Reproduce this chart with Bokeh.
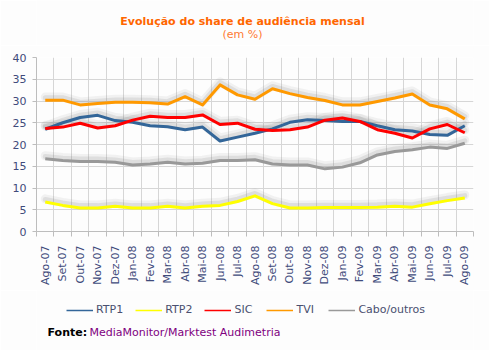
from math import pi
from bokeh.plotting import figure
from bokeh.layouts import column
from bokeh.models import FixedTicker, Label, Legend, LegendItem, ColumnDataSource
from bokeh.transform import dodge
from bokeh.embed import file_html
from bokeh.resources import INLINE

months = ["Ago-07", "Set-07", "Out-07", "Nov-07", "Dez-07", "Jan-08", "Fev-08", "Mar-08",
          "Abr-08", "Mai-08", "Jun-08", "Jul-08", "Ago-08", "Set-08", "Out-08", "Nov-08",
          "Dez-08", "Jan-09", "Fev-09", "Mar-09", "Abr-09", "Mai-09", "Jun-09", "Jul-09", "Ago-09"]
rtp1 = [23.5, 25.0, 26.2, 26.7, 25.5, 25.1, 24.3, 24.1, 23.4, 24.0, 20.8, 21.7, 22.6,
        23.6, 25.1, 25.7, 25.5, 25.3, 25.3, 24.3, 23.4, 23.1, 22.3, 22.1, 24.3]
rtp2 = [6.8, 6.0, 5.4, 5.4, 5.8, 5.4, 5.4, 5.8, 5.4, 5.8, 6.0, 6.9, 8.2,
        6.4, 5.4, 5.4, 5.5, 5.5, 5.5, 5.6, 5.8, 5.6, 6.4, 7.1, 7.7]
sic = [23.7, 24.0, 24.9, 23.8, 24.3, 25.6, 26.5, 26.2, 26.2, 26.8, 24.6, 24.9, 23.5,
       23.2, 23.4, 24.0, 25.6, 26.1, 25.3, 23.4, 22.6, 21.5, 23.6, 24.6, 22.7]
tvi = [30.2, 30.2, 29.1, 29.4, 29.7, 29.7, 29.6, 29.3, 31.0, 29.1, 33.7, 31.4, 30.4,
       32.8, 31.7, 30.8, 30.1, 29.1, 29.1, 29.9, 30.7, 31.6, 29.1, 28.2, 25.9]
cabo = [16.7, 16.3, 16.1, 16.1, 15.9, 15.3, 15.5, 15.9, 15.5, 15.7, 16.3, 16.3, 16.5,
        15.5, 15.3, 15.3, 14.4, 14.8, 15.8, 17.6, 18.4, 18.8, 19.4, 19.1, 20.3]
series_names = ["RTP1", "RTP2", "SIC", "TVI", "Cabo/outros"]
series_colors = ["#336699", "#FFFF00", "#FF0000", "#FF9900", "#999999"]
yticks = [0, 5, 10, 15, 20, 25, 30, 35, 40]

idx = list(range(len(months)))
bounds = [i - 0.5 for i in range(len(months) + 1)]
src = ColumnDataSource(dict(x=idx, RTP1=rtp1, RTP2=rtp2, SIC=sic, TVI=tvi, Cabo=cabo))
keys = ["RTP1", "RTP2", "SIC", "TVI", "Cabo"]

bg = "#FDFDFD"
W = 489
FONT = "DejaVu Sans"
LEFT = 36  # the column aligns every frame with the chart frame


def blank(h):
    f = figure(width=W, height=h, x_range=(0, 1), y_range=(0, 1), output_backend="svg",
               toolbar_location=None, x_axis_location=None, y_axis_location=None,
               min_border_left=LEFT, min_border_right=16, min_border_top=0, min_border_bottom=0,
               background_fill_color=bg, border_fill_color=bg)
    f.outline_line_color = None
    f.grid.grid_line_color = None
    return f


# ---- title strip ----
top = blank(45)
top.add_layout(Label(x=242 - LEFT, y=24, x_units="screen", y_units="screen",
                     text="Evolução do share de audiência mensal", text_align="center",
                     text_baseline="middle", text_font=FONT, text_font_style="bold",
                     text_font_size="11px", text_color="#FF6600"))
top.add_layout(Label(x=242 - LEFT, y=11, x_units="screen", y_units="screen",
                     text="(em %)", text_align="center", text_baseline="middle",
                     text_font=FONT, text_font_size="11px", text_color="#FF7A33"))

# ---- main chart ----
p = figure(width=W, height=245, x_range=(-0.5, len(months) - 0.5), y_range=(yticks[0], yticks[-1]),
           output_backend="svg", toolbar_location=None,
           min_border_left=LEFT, min_border_right=16, min_border_top=12, min_border_bottom=59,
           background_fill_color=bg, border_fill_color=bg)
p.outline_line_color = None

lab_color = "#3F4B7B"
p.xaxis.ticker = FixedTicker(ticks=idx, minor_ticks=bounds)
p.xaxis.major_label_overrides = {i: m for i, m in enumerate(months)}
p.xaxis.major_label_orientation = pi / 2
p.xaxis.major_tick_out = 0
p.xaxis.major_tick_in = 0
p.xaxis.minor_tick_out = 5
p.xaxis.minor_tick_in = 0
p.xaxis.major_label_standoff = 9
p.xgrid.ticker = FixedTicker(ticks=bounds)

p.yaxis.ticker = FixedTicker(ticks=yticks)
p.yaxis.major_tick_out = 4
p.yaxis.major_tick_in = 0
p.yaxis.minor_tick_out = 0
p.yaxis.minor_tick_in = 0
p.yaxis.major_label_standoff = 6

for ax in (p.xaxis[0], p.yaxis[0]):
    ax.axis_line_color = "#BDBDBD"
    ax.major_tick_line_color = "#BDBDBD"
    ax.minor_tick_line_color = "#BDBDBD"
    ax.major_label_text_font = FONT
    ax.major_label_text_font_size = "11px"
    ax.major_label_text_color = lab_color

p.xgrid.grid_line_color = "#D6D6D6"
p.ygrid.grid_line_color = "#D6D6D6"

for k in keys:
    p.line("x", dodge(k, 0.7), source=src, line_color="#888888", line_alpha=0.10, line_width=9,
           line_join="round", line_cap="round")
    p.line("x", dodge(k, 0.55), source=src, line_color="#888888", line_alpha=0.18, line_width=5,
           line_join="round", line_cap="round")

for k, col in zip(keys, series_colors):
    p.line("x", k, source=src, line_color=col, line_width=3, line_join="round")

# ---- footer: legend + source ----
foot = blank(60)
items = []
for name, col in zip(series_names, series_colors):
    # legend swatch renderer, kept outside the visible range
    swatch = foot.line(x=[-3, -2], y=[-3, -3], line_color=col, line_width=1.5)
    items.append(LegendItem(label=name, renderers=[swatch]))
legend = Legend(items=items, orientation="horizontal", location=(66 - LEFT, 34),
                glyph_width=27, glyph_height=12, label_height=12, label_standoff=3, spacing=12,
                padding=0, margin=0, border_line_color=None, background_fill_alpha=0,
                label_text_font=FONT, label_text_font_size="11px",
                label_text_color="#4A5070")
foot.add_layout(legend)
foot.add_layout(Label(x=47 - LEFT, y=18, x_units="screen", y_units="screen",
                      text="Fonte:", text_align="left", text_baseline="middle",
                      text_font=FONT, text_font_style="bold",
                      text_font_size="11px", text_color="#000000"))
foot.add_layout(Label(x=89 - LEFT, y=18, x_units="screen", y_units="screen",
                      text="MediaMonitor/Marktest Audimetria", text_align="left",
                      text_baseline="middle", text_font=FONT, text_font_size="11px",
                      text_color="#800080"))

layout = column(top, p, foot, spacing=0)
open("out.html", "w").write(file_html(layout, INLINE))
